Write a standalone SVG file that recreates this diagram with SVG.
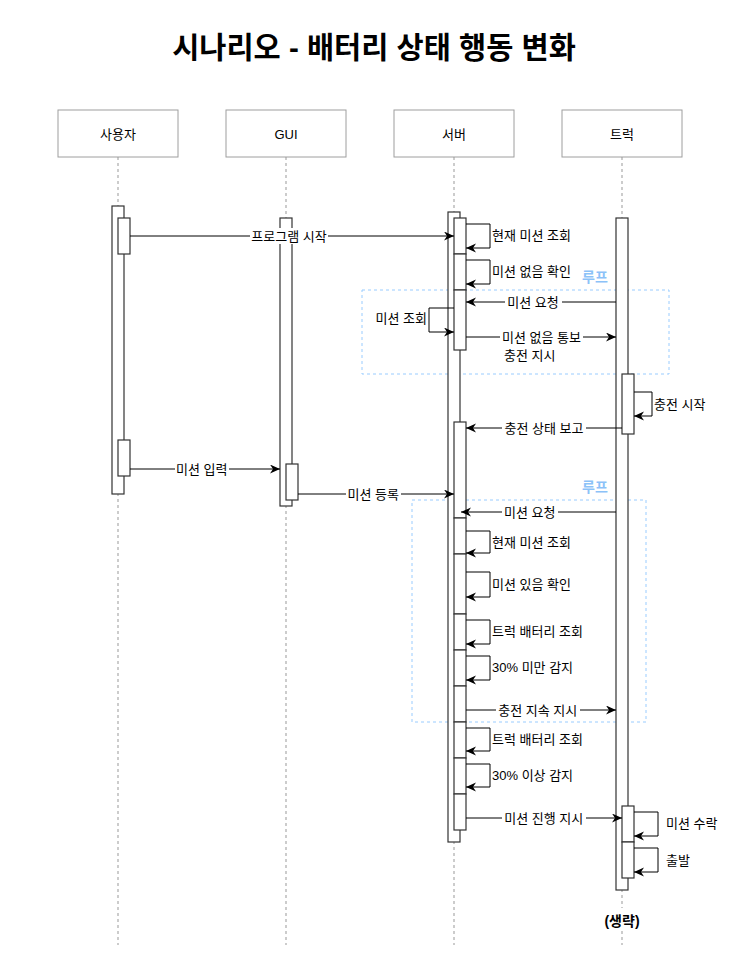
<svg xmlns="http://www.w3.org/2000/svg" width="742" height="967" viewBox="0 0 742 967">
<style>
text{font-family:"Liberation Sans","Noto Sans CJK KR",sans-serif;font-size:13px;fill:#000}
.title{font-size:29.5px;font-weight:bold}
.pbox{fill:#fff;stroke:#9e9e9e;stroke-width:1}
.life{stroke:#999;stroke-width:1;stroke-dasharray:3 3;fill:none}
.bar{fill:#fff;stroke:#333;stroke-width:1.2}
.msg{stroke:#000;stroke-width:1;fill:none;marker-end:url(#ah)}
.lbg{fill:#fff}
.loop{fill:none;stroke:#99ccff;stroke-width:1;stroke-dasharray:3 3}
.looplbl{font-size:14px;font-weight:bold;fill:#8cc2f8}
.bold{font-size:14px;font-weight:bold}
</style>
<defs>
<marker id="ah" markerUnits="userSpaceOnUse" markerWidth="11" markerHeight="10" refX="10" refY="4.5" orient="auto">
<path d="M0,0 L10,4.5 L0,9 L3,4.5 Z" fill="#000"/>
</marker>
</defs>
<rect width="742" height="967" fill="#fff"/>
<text class="title" x="374" y="58" text-anchor="middle">시나리오 - 배터리 상태 행동 변화</text>

<g id="frames">
<rect class="loop" x="362" y="290" width="307" height="84"/>
<text class="looplbl" x="595" y="281.5" text-anchor="middle">루프</text>
<rect class="loop" x="412" y="500" width="234" height="222"/>
<text class="looplbl" x="595" y="491.5" text-anchor="middle">루프</text>
</g>

<g id="user">
<rect class="pbox" x="58" y="110" width="120" height="47"/>
<text x="118" y="138.5" text-anchor="middle">사용자</text>
<line class="life" x1="118" y1="157" x2="118" y2="945"/>
<rect class="bar" x="112" y="206" width="12" height="288"/>
<rect class="bar" x="118" y="218" width="12" height="36"/>
<rect class="bar" x="118" y="440" width="12" height="36"/>
</g>

<g id="gui">
<rect class="pbox" x="226" y="110" width="120" height="47"/>
<text x="286" y="138.5" text-anchor="middle">GUI</text>
<line class="life" x1="286" y1="157" x2="286" y2="945"/>
<rect class="bar" x="280" y="218" width="12" height="288"/>
<rect class="bar" x="286" y="464" width="12" height="36"/>
</g>

<g id="server">
<rect class="pbox" x="394" y="110" width="120" height="47"/>
<text x="454" y="138.5" text-anchor="middle">서버</text>
<line class="life" x1="454" y1="157" x2="454" y2="945"/>
<rect class="bar" x="448" y="212" width="12" height="630"/>
<rect class="bar" x="454" y="218" width="12" height="36"/>
<rect class="bar" x="454" y="254" width="12" height="36"/>
<rect class="bar" x="454" y="290" width="12" height="60"/>
<rect class="bar" x="454" y="422" width="12" height="96"/>
<rect class="bar" x="454" y="518" width="12" height="36"/>
<rect class="bar" x="454" y="554" width="12" height="60"/>
<rect class="bar" x="454" y="614" width="12" height="36"/>
<rect class="bar" x="454" y="650" width="12" height="36"/>
<rect class="bar" x="454" y="686" width="12" height="36"/>
<rect class="bar" x="454" y="722" width="12" height="36"/>
<rect class="bar" x="454" y="758" width="12" height="36"/>
<rect class="bar" x="454" y="794" width="12" height="36"/>
</g>

<g id="truck">
<rect class="pbox" x="562" y="110" width="120" height="47"/>
<text x="622" y="138.5" text-anchor="middle">트럭</text>
<line class="life" x1="622" y1="157" x2="622" y2="945"/>
<rect class="bar" x="616" y="218" width="12" height="672"/>
<rect class="bar" x="622" y="374" width="12" height="60"/>
<rect class="bar" x="622" y="806" width="12" height="36"/>
<rect class="bar" x="622" y="842" width="12" height="36"/>
<rect class="lbg" x="598" y="908" width="48" height="22"/>
<text class="bold" x="622" y="925.5" text-anchor="middle">(생략)</text>
</g>

<g id="connectors">
<line class="msg" x1="130" y1="236" x2="454" y2="236"/>
<rect class="lbg" x="250" y="228" width="78" height="16"/>
<text x="289" y="241" text-anchor="middle">프로그램 시작</text>

<polyline class="msg" points="466,224 490,224 490,248 466,248"/>
<text x="492" y="240">현재 미션 조회</text>
<polyline class="msg" points="466,260 490,260 490,284 466,284"/>
<text x="492" y="276">미션 없음 확인</text>

<line class="msg" x1="616" y1="302" x2="466" y2="302"/>
<rect class="lbg" x="505" y="294" width="57" height="16"/>
<text x="533" y="307" text-anchor="middle">미션 요청</text>

<polyline class="msg" points="454,308 429,308 429,332 454,332"/>
<text x="427" y="323" text-anchor="end">미션 조회</text>

<line class="msg" x1="466" y1="337" x2="616" y2="337"/>
<rect class="lbg" x="500" y="329" width="83" height="16"/>
<text x="502" y="342">미션 없음 통보</text>
<text x="504" y="360">충전 지시</text>

<polyline class="msg" points="634,392 652,392 652,416 634,416"/>
<text x="654" y="408.5">충전 시작</text>

<line class="msg" x1="622" y1="428" x2="466" y2="428"/>
<rect class="lbg" x="502" y="420" width="84" height="16"/>
<text x="544" y="433" text-anchor="middle">충전 상태 보고</text>

<line class="msg" x1="130" y1="469" x2="280" y2="469"/>
<rect class="lbg" x="175" y="461" width="54" height="16"/>
<text x="201.7" y="474" text-anchor="middle">미션 입력</text>

<line class="msg" x1="298" y1="494" x2="454" y2="494"/>
<rect class="lbg" x="346" y="486" width="55" height="16"/>
<text x="373.3" y="499" text-anchor="middle">미션 등록</text>

<line class="msg" x1="616" y1="512" x2="461" y2="512"/>
<rect class="lbg" x="502" y="504" width="56" height="16"/>
<text x="529.7" y="517" text-anchor="middle">미션 요청</text>

<polyline class="msg" points="466,531 490,531 490,553 466,553"/>
<text x="492" y="546.5">현재 미션 조회</text>
<polyline class="msg" points="466,572 490,572 490,597 466,597"/>
<text x="492" y="588.5">미션 있음 확인</text>
<polyline class="msg" points="466,620 490,620 490,644 466,644"/>
<text x="492" y="635.5">트럭 배터리 조회</text>
<polyline class="msg" points="466,656 490,656 490,680 466,680"/>
<text x="492" y="671.5">30% 미만 감지</text>

<line class="msg" x1="466" y1="710" x2="616" y2="710"/>
<rect class="lbg" x="496" y="702" width="84" height="16"/>
<text x="537.7" y="715" text-anchor="middle">충전 지속 지시</text>

<polyline class="msg" points="466,728 490,728 490,751 466,751"/>
<text x="492" y="744">트럭 배터리 조회</text>
<polyline class="msg" points="466,764 490,764 490,787 466,787"/>
<text x="492" y="780">30% 이상 감지</text>

<line class="msg" x1="466" y1="818" x2="622" y2="818"/>
<rect class="lbg" x="502" y="810" width="84" height="16"/>
<text x="543.7" y="823" text-anchor="middle">미션 진행 지시</text>

<polyline class="msg" points="634,812 658,812 658,836 634,836"/>
<text x="666" y="828">미션 수락</text>
<polyline class="msg" points="634,848 658,848 658,872 634,872"/>
<text x="666" y="865">출발</text>
</g>
</svg>
